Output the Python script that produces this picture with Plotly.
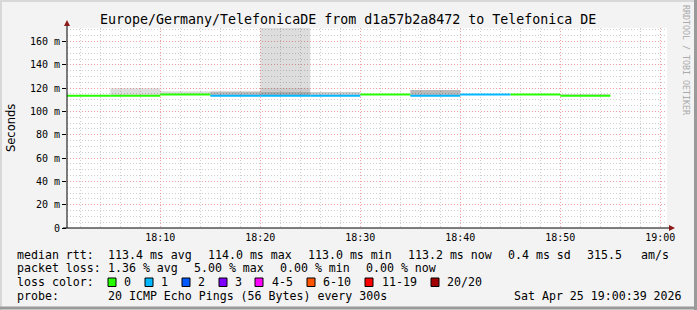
import plotly.graph_objects as go
from datetime import datetime, timedelta

# ---------------- data ----------------
day = "2026-04-25"
bucket_end = ["18:05", "18:10", "18:15", "18:20", "18:25", "18:30",
              "18:35", "18:40", "18:45", "18:50", "18:55"]
median_ms = [113.4, 113.4, 114.6, 113.4, 113.4, 113.4,
             114.6, 113.4, 114.6, 114.6, 113.4]
lost_pings = [0, 0, 0, 1, 1, 1, 0, 1, 1, 0, 0]

# smoke bands (ping spread): bucket index, low ms, high ms, density tier
smoke_bucket = [1, 2, 3, 3, 4, 4, 4, 5, 7, 10]
smoke_low = [113.4, 114.6, 113.4, 116.7, 113.4, 116.7, 120.1, 113.4, 113.4, 113.4]
smoke_high = [119.9, 117.3, 116.7, 117.8, 116.7, 120.1, 171.5, 116.7, 118.4, 115.0]
smoke_tier = [0, 0, 2, 0, 3, 1, 0, 1, 2, 0]

x_tick_labels = ["18:10", "18:20", "18:30", "18:40", "18:50", "19:00"]
y_tick_values = [0, 20, 40, 60, 80, 100, 120, 140, 160]
y_tick_labels = ["0", "20 m", "40 m", "60 m", "80 m", "100 m", "120 m", "140 m", "160 m"]

loss_labels = ["0", "1", "2", "3", "4-5", "6-10", "11-19", "20/20"]
loss_upper = [0, 1, 2, 3, 5, 10, 19, 20]
loss_colors = ["#26ff00", "#00b8ff", "#0059ff", "#7e00ff", "#ff00ff",
               "#ff5500", "#ff0000", "#a10000"]

title = "Europe/Germany/TelefonicaDE from d1a57b2a8472 to Telefonica DE"
rtt_stats = ["113.4 ms avg", "114.0 ms max", "113.0 ms min", "113.2 ms now",
             "0.4 ms sd", "315.5", "am/s"]
loss_stats = ["1.36 % avg", "5.00 % max", "0.00 % min", "0.00 % now"]
probe_text = "20 ICMP Echo Pings (56 Bytes) every 300s"
stamp_text = "Sat Apr 25 19:00:39 2026"

# ---------------- layout helpers ----------------
W, H = 697, 310
PL, PR, PT, PB = 67, 667, 28, 228


def px(x):
    return (x - PL) / (PR - PL)


def py(y):
    return (PB - y) / (PB - PT)


def t(hm):
    return datetime.fromisoformat(f"{day} {hm}:00" if len(hm) == 5 else f"{day} {hm}")


step = timedelta(minutes=5)
ends = [t(e) for e in bucket_end]
starts = [e - step for e in ends]

fig = go.Figure()

# smoke
tier_colors = ["rgba(0,0,0,0.135)", "rgba(0,0,0,0.20)", "rgba(0,0,0,0.27)", "rgba(0,0,0,0.33)"]
for tier, col in enumerate(tier_colors):
    idx = [i for i in range(len(smoke_bucket)) if smoke_tier[i] == tier]
    if not idx:
        continue
    fig.add_trace(go.Bar(
        x=[starts[smoke_bucket[i]] + step / 2 for i in idx],
        y=[smoke_high[i] - smoke_low[i] for i in idx],
        base=[smoke_low[i] for i in idx],
        width=[step.total_seconds() * 1000] * len(idx),
        marker=dict(color=col, line=dict(width=0)),
        hoverinfo="skip", showlegend=False))


def loss_color(n):
    for up, c in zip(loss_upper, loss_colors):
        if n <= up:
            return c
    return loss_colors[-1]


groups = {}
for s, e, m, n in zip(starts, ends, median_ms, lost_pings):
    c = loss_color(n)
    gx, gy = groups.setdefault(c, ([], []))
    gx += [s, e, None]
    gy += [m, m, None]
for c, (gx, gy) in groups.items():
    fig.add_trace(go.Scatter(x=gx, y=gy, mode="lines",
                             line=dict(color=c, width=2),
                             hoverinfo="skip", showlegend=False))

mono = "DejaVu Sans Mono"
major_grid = "#f4a0a0"
minor_grid = "#cfcfcf"

fig.update_layout(
    width=W, height=H,
    margin=dict(l=PL, r=W - PR, t=PT, b=H - PB),
    paper_bgcolor="#f3f3f3", plot_bgcolor="#ffffff",
    barmode="overlay", showlegend=False,
    font=dict(family=mono, size=10, color="#000000"),
    xaxis=dict(
        type="date",
        range=[t("18:00:40"), t("19:00:40")],
        tickvals=[t(v) for v in x_tick_labels],
        ticktext=x_tick_labels,
        showgrid=True, gridcolor=major_grid, griddash="1px,2px", gridwidth=1,
        minor=dict(dtick=120000, tick0=t("18:00"), showgrid=True,
                   gridcolor=minor_grid, griddash="1px,2px", gridwidth=1),
        zeroline=False, showline=False, ticks="",
        ticklabelstandoff=2,
        tickfont=dict(family=mono, size=10),
    ),
    yaxis=dict(
        range=[0, 171.6],
        tickvals=y_tick_values, ticktext=y_tick_labels,
        showgrid=True, gridcolor=major_grid, griddash="1px,2px", gridwidth=1,
        minor=dict(dtick=5, tick0=0, showgrid=True,
                   gridcolor=minor_grid, griddash="1px,2px", gridwidth=1),
        zeroline=False, showline=False,
        ticks="outside", ticklen=4, tickcolor="#000000",
        tickfont=dict(family=mono, size=10),
    ),
)

shapes = []
# axes with arrows
shapes.append(dict(type="line", xref="paper", yref="paper",
                   x0=px(63), x1=px(670), y0=py(228), y1=py(228),
                   line=dict(color="#000000", width=1)))
shapes.append(dict(type="line", xref="paper", yref="paper",
                   x0=px(67), x1=px(67), y0=py(228), y1=py(24),
                   line=dict(color="#000000", width=1)))
shapes.append(dict(type="path", xref="paper", yref="paper",
                   path=f"M {px(669)} {py(225)} L {px(675)} {py(228)} L {px(669)} {py(231)} Z",
                   fillcolor="#8b1a1a", line=dict(width=0)))
shapes.append(dict(type="path", xref="paper", yref="paper",
                   path=f"M {px(64)} {py(26)} L {px(67)} {py(20)} L {px(70)} {py(26)} Z",
                   fillcolor="#8b1a1a", line=dict(width=0)))
# frame
shapes.append(dict(type="line", xref="paper", yref="paper",
                   x0=px(0), x1=px(697), y0=py(1), y1=py(1),
                   line=dict(color="#d8d8d8", width=2)))
shapes.append(dict(type="line", xref="paper", yref="paper",
                   x0=px(1), x1=px(1), y0=py(0), y1=py(310),
                   line=dict(color="#d8d8d8", width=2)))
shapes.append(dict(type="line", xref="paper", yref="paper",
                   x0=px(0), x1=px(697), y0=py(308), y1=py(308),
                   line=dict(color="#9a9a9a", width=3)))
shapes.append(dict(type="line", xref="paper", yref="paper",
                   x0=px(695.5), x1=px(695.5), y0=py(0), y1=py(310),
                   line=dict(color="#9a9a9a", width=3)))

# loss colour boxes
box_x = [108, 145, 182, 219, 255, 307, 365, 431]
label_x = [123.3, 160, 196.7, 234, 270.7, 322, 380.7, 446]
for bx, c in zip(box_x, loss_colors):
    shapes.append(dict(type="rect", xref="paper", yref="paper",
                       x0=px(bx), x1=px(bx + 8), y0=py(278), y1=py(286.5),
                       fillcolor=c, line=dict(color="#000000", width=1)))
fig.update_layout(shapes=shapes)

ann = []


def text(s, x, y, size=11.6, family=mono, color="#000000", anchor="left", angle=0):
    ann.append(dict(text=s, x=px(x), y=py(y), xref="paper", yref="paper",
                    xanchor=anchor, yanchor="middle", showarrow=False,
                    borderpad=0, textangle=angle,
                    font=dict(family=family, size=size, color=color)))


text(title, 347.5, 19.5, size=13.3, anchor="center")
text("RRDTOOL / TOBI OETIKER", 686, 60, size=8.3, color="#aaaaaa", anchor="center", angle=90)
text("Seconds", 11, 128, size=11.5, family="DejaVu Sans", anchor="center", angle=-90)

text("median rtt:", 16, 254.7)
for s, x in zip(rtt_stats, [107.3, 207.3, 307.3, 407.3, 507.3, 586, 640]):
    text(s, x, 254.7)
text("packet loss:", 16, 268.3)
for s, x in zip(loss_stats, [107.3, 192.7, 279.3, 365]):
    text(s, x, 268.3)
text("loss color:", 16, 282)
for s, x in zip(loss_labels, label_x):
    text(s, x, 282)
text("probe:", 16, 295.7)
text(probe_text, 107.3, 295.7)
text(stamp_text, 513.3, 295.7)

fig.update_layout(annotations=ann)
fig.write_html("out.html")
